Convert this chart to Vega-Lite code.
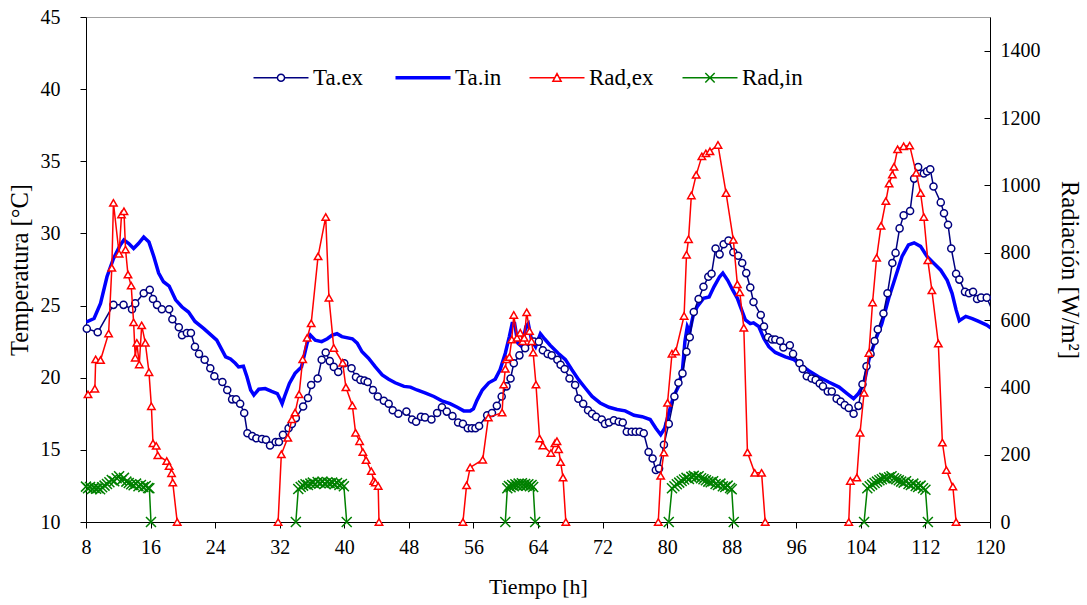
{
  "$schema": "https://vega.github.io/schema/vega-lite/v6.json",
  "width": 904,
  "height": 505,
  "autosize": {"type": "none"},
  "padding": {"left": 86, "top": 17, "right": 97, "bottom": 83},
  "background": "white",
  "config": {
    "font": "Times New Roman, Liberation Serif, serif",
    "view": {"stroke": "#a0a0a0", "strokeWidth": 1},
    "axis": {
      "labelFont": "Times New Roman, Liberation Serif, serif", "titleFont": "Times New Roman, Liberation Serif, serif",
      "labelColor": "black", "titleColor": "black", "domainColor": "black", "tickColor": "black",
      "labelFontSize": 20, "titleFontSize": 22, "titleFontWeight": "normal",
      "grid": false, "domainWidth": 1, "tickWidth": 1, "labelOverlap": false
    }
  },
  "datasets": {
    "taex": [{"t":8.1,"v":23.4},{"t":9.45,"v":23.15},{"t":11.4,"v":25.05},{"t":12.65,"v":25.05},{"t":13.7,"v":24.75},{"t":14.1,"v":25.15},{"t":15.15,"v":25.85},{"t":15.9,"v":26.1},{"t":16.3,"v":25.45},{"t":16.8,"v":25.05},{"t":17.4,"v":24.75},{"t":18.3,"v":24.75},{"t":18.7,"v":24.05},{"t":19.5,"v":23.5},{"t":19.9,"v":22.95},{"t":20.5,"v":23.1},{"t":21.0,"v":23.1},{"t":21.5,"v":22.15},{"t":22.0,"v":21.65},{"t":22.7,"v":21.25},{"t":23.4,"v":20.65},{"t":23.9,"v":20.1},{"t":24.9,"v":19.7},{"t":25.5,"v":19.15},{"t":26.1,"v":18.5},{"t":26.6,"v":18.5},{"t":27.1,"v":18.2},{"t":27.6,"v":17.55},{"t":28.0,"v":16.15},{"t":28.6,"v":15.95},{"t":29.1,"v":15.8},{"t":29.8,"v":15.75},{"t":30.3,"v":15.7},{"t":30.8,"v":15.3},{"t":31.5,"v":15.55},{"t":31.9,"v":15.55},{"t":32.4,"v":16.05},{"t":33.1,"v":16.5},{"t":33.5,"v":16.8},{"t":34.0,"v":17.2},{"t":34.9,"v":18.0},{"t":35.5,"v":18.6},{"t":35.9,"v":19.5},{"t":36.7,"v":19.95},{"t":37.2,"v":21.25},{"t":37.7,"v":21.75},{"t":38.2,"v":21.15},{"t":38.7,"v":20.75},{"t":39.25,"v":20.4},{"t":40.0,"v":21.0},{"t":40.9,"v":20.65},{"t":41.45,"v":20.05},{"t":42.0,"v":19.85},{"t":42.5,"v":19.8},{"t":42.9,"v":19.7},{"t":43.55,"v":19.15},{"t":44.15,"v":18.7},{"t":44.9,"v":18.4},{"t":45.5,"v":18.2},{"t":46.0,"v":17.75},{"t":46.7,"v":17.5},{"t":47.7,"v":17.65},{"t":48.4,"v":17.1},{"t":48.9,"v":16.95},{"t":49.5,"v":17.3},{"t":50.0,"v":17.25},{"t":50.8,"v":17.1},{"t":51.5,"v":17.55},{"t":52.1,"v":17.95},{"t":52.7,"v":17.65},{"t":53.4,"v":17.35},{"t":54.1,"v":16.9},{"t":54.7,"v":16.8},{"t":55.3,"v":16.5},{"t":55.8,"v":16.5},{"t":56.25,"v":16.5},{"t":56.7,"v":16.65},{"t":57.7,"v":17.4},{"t":58.3,"v":17.55},{"t":58.9,"v":18.05},{"t":59.5,"v":18.7},{"t":60.1,"v":19.4},{"t":60.6,"v":19.95},{"t":61.0,"v":21.0},{"t":61.7,"v":21.55},{"t":62.4,"v":22.05},{"t":63.5,"v":22.5},{"t":64.1,"v":22.5},{"t":64.6,"v":21.9},{"t":65.2,"v":21.65},{"t":65.7,"v":21.55},{"t":66.4,"v":21.25},{"t":66.8,"v":20.9},{"t":67.3,"v":20.6},{"t":67.9,"v":19.95},{"t":68.6,"v":19.5},{"t":69.0,"v":18.55},{"t":69.6,"v":18.2},{"t":70.2,"v":17.75},{"t":70.7,"v":17.5},{"t":71.2,"v":17.3},{"t":71.9,"v":17.1},{"t":72.3,"v":16.8},{"t":72.8,"v":16.9},{"t":73.4,"v":17.05},{"t":74.0,"v":16.95},{"t":74.5,"v":16.9},{"t":75.0,"v":16.25},{"t":75.6,"v":16.25},{"t":76.1,"v":16.25},{"t":76.6,"v":16.25},{"t":77.1,"v":16.15},{"t":77.7,"v":14.85},{"t":78.2,"v":14.4},{"t":78.6,"v":13.6},{"t":79.0,"v":13.7},{"t":79.6,"v":15.35},{"t":80.2,"v":16.8},{"t":80.9,"v":18.7},{"t":81.4,"v":19.65},{"t":81.9,"v":20.3},{"t":82.4,"v":21.8},{"t":82.8,"v":22.8},{"t":83.3,"v":24.55},{"t":83.9,"v":25.45},{"t":84.5,"v":26.3},{"t":85.1,"v":27.0},{"t":85.5,"v":27.2},{"t":86.0,"v":28.95},{"t":86.5,"v":28.55},{"t":87.0,"v":29.25},{"t":87.6,"v":29.5},{"t":88.2,"v":28.7},{"t":88.8,"v":28.45},{"t":89.3,"v":27.95},{"t":89.8,"v":27.25},{"t":90.3,"v":26.25},{"t":90.7,"v":25.25},{"t":91.6,"v":24.35},{"t":92.0,"v":23.55},{"t":92.5,"v":22.8},{"t":93.0,"v":22.65},{"t":93.4,"v":22.65},{"t":94.0,"v":22.55},{"t":94.4,"v":22.1},{"t":95.2,"v":22.25},{"t":95.6,"v":21.65},{"t":96.4,"v":21.0},{"t":96.8,"v":20.6},{"t":97.3,"v":20.1},{"t":97.9,"v":19.95},{"t":98.4,"v":19.85},{"t":98.9,"v":19.6},{"t":99.3,"v":19.4},{"t":99.9,"v":19.05},{"t":100.4,"v":19.05},{"t":101.0,"v":18.55},{"t":101.5,"v":18.35},{"t":102.0,"v":18.1},{"t":102.5,"v":17.9},{"t":103.1,"v":17.5},{"t":103.7,"v":18.05},{"t":104.2,"v":19.55},{"t":104.7,"v":20.8},{"t":105.2,"v":21.65},{"t":105.7,"v":22.55},{"t":106.1,"v":23.35},{"t":106.8,"v":24.45},{"t":107.3,"v":25.85},{"t":107.9,"v":27.95},{"t":108.3,"v":28.65},{"t":108.8,"v":30.35},{"t":109.3,"v":31.25},{"t":110.1,"v":31.55},{"t":110.6,"v":33.8},{"t":111.1,"v":34.6},{"t":111.8,"v":34.15},{"t":112.2,"v":34.3},{"t":112.6,"v":34.45},{"t":113.0,"v":33.25},{"t":113.9,"v":32.15},{"t":114.3,"v":31.4},{"t":114.8,"v":30.6},{"t":115.2,"v":28.95},{"t":115.8,"v":27.2},{"t":116.2,"v":26.8},{"t":116.9,"v":25.95},{"t":117.4,"v":25.85},{"t":117.9,"v":25.95},{"t":118.4,"v":25.45},{"t":118.9,"v":25.55},{"t":119.6,"v":25.55},{"t":120.5,"v":24.4}],
    "tain": [{"t":8.0,"v":23.85},{"t":9.0,"v":24.1},{"t":9.8,"v":25.15},{"t":10.6,"v":27.0},{"t":11.4,"v":28.25},{"t":12.25,"v":29.2},{"t":12.7,"v":29.55},{"t":13.3,"v":29.3},{"t":13.9,"v":28.95},{"t":14.5,"v":29.3},{"t":15.15,"v":29.75},{"t":15.8,"v":29.4},{"t":16.4,"v":28.4},{"t":17.0,"v":27.25},{"t":17.6,"v":26.65},{"t":18.3,"v":26.35},{"t":19.1,"v":25.4},{"t":19.9,"v":24.9},{"t":20.7,"v":24.55},{"t":21.5,"v":23.9},{"t":22.6,"v":23.4},{"t":23.4,"v":23.0},{"t":24.2,"v":22.6},{"t":25.3,"v":21.45},{"t":25.9,"v":21.3},{"t":26.5,"v":21.0},{"t":26.9,"v":20.75},{"t":27.5,"v":20.8},{"t":27.95,"v":20.05},{"t":28.4,"v":19.15},{"t":28.8,"v":18.8},{"t":29.4,"v":19.2},{"t":30.2,"v":19.25},{"t":31.0,"v":19.05},{"t":31.7,"v":18.9},{"t":32.1,"v":18.45},{"t":32.3,"v":18.2},{"t":32.6,"v":18.7},{"t":33.2,"v":19.6},{"t":33.9,"v":20.3},{"t":34.7,"v":20.75},{"t":35.4,"v":22.4},{"t":35.8,"v":22.95},{"t":36.4,"v":22.6},{"t":37.2,"v":22.5},{"t":37.9,"v":22.7},{"t":38.5,"v":22.95},{"t":39.1,"v":23.05},{"t":39.7,"v":22.85},{"t":41.0,"v":22.7},{"t":41.6,"v":22.4},{"t":42.2,"v":21.8},{"t":43.0,"v":21.35},{"t":43.85,"v":20.75},{"t":44.7,"v":20.2},{"t":45.5,"v":19.9},{"t":46.3,"v":19.65},{"t":47.4,"v":19.4},{"t":48.2,"v":19.35},{"t":49.0,"v":19.15},{"t":50.0,"v":18.95},{"t":51.1,"v":18.7},{"t":52.1,"v":18.4},{"t":53.1,"v":18.2},{"t":54.0,"v":17.95},{"t":54.8,"v":17.7},{"t":55.6,"v":17.7},{"t":56.0,"v":17.85},{"t":56.45,"v":18.45},{"t":57.1,"v":19.15},{"t":57.9,"v":19.65},{"t":58.7,"v":19.9},{"t":59.3,"v":20.55},{"t":59.95,"v":21.7},{"t":60.45,"v":22.85},{"t":60.8,"v":23.75},{"t":61.1,"v":23.75},{"t":61.5,"v":22.4},{"t":62.0,"v":22.15},{"t":62.5,"v":23.55},{"t":62.8,"v":23.75},{"t":63.2,"v":22.6},{"t":63.7,"v":22.15},{"t":64.3,"v":23.05},{"t":64.8,"v":22.7},{"t":65.5,"v":22.25},{"t":66.5,"v":21.7},{"t":67.4,"v":21.25},{"t":68.2,"v":20.55},{"t":69.05,"v":19.85},{"t":69.9,"v":19.25},{"t":70.7,"v":18.7},{"t":71.7,"v":18.25},{"t":72.8,"v":17.95},{"t":73.8,"v":17.8},{"t":74.8,"v":17.7},{"t":75.9,"v":17.4},{"t":76.9,"v":17.3},{"t":77.9,"v":17.1},{"t":78.6,"v":16.5},{"t":79.2,"v":16.05},{"t":79.7,"v":16.5},{"t":80.2,"v":17.55},{"t":80.8,"v":18.7},{"t":81.4,"v":19.4},{"t":81.9,"v":20.55},{"t":82.2,"v":22.5},{"t":82.5,"v":23.55},{"t":82.8,"v":23.2},{"t":83.2,"v":24.25},{"t":83.7,"v":24.9},{"t":84.5,"v":25.5},{"t":85.2,"v":25.6},{"t":85.8,"v":26.3},{"t":86.5,"v":27.0},{"t":86.9,"v":27.25},{"t":87.5,"v":26.75},{"t":88.1,"v":26.1},{"t":88.7,"v":25.5},{"t":89.1,"v":24.9},{"t":89.7,"v":24.0},{"t":90.3,"v":23.75},{"t":90.7,"v":23.8},{"t":91.35,"v":23.55},{"t":92.0,"v":22.7},{"t":92.6,"v":22.15},{"t":93.4,"v":21.75},{"t":94.65,"v":21.45},{"t":95.7,"v":21.25},{"t":96.5,"v":20.9},{"t":97.5,"v":20.5},{"t":98.8,"v":20.05},{"t":100.0,"v":19.7},{"t":101.3,"v":19.35},{"t":102.3,"v":18.9},{"t":103.1,"v":18.55},{"t":103.7,"v":18.9},{"t":104.4,"v":19.6},{"t":105.0,"v":21.25},{"t":105.8,"v":22.6},{"t":106.6,"v":23.75},{"t":107.5,"v":25.6},{"t":108.3,"v":27.0},{"t":109.1,"v":28.4},{"t":109.9,"v":29.2},{"t":110.6,"v":29.35},{"t":111.4,"v":29.1},{"t":112.2,"v":28.4},{"t":113.0,"v":27.95},{"t":113.9,"v":27.45},{"t":114.7,"v":26.75},{"t":115.3,"v":25.85},{"t":115.8,"v":24.7},{"t":116.2,"v":23.95},{"t":117.0,"v":24.25},{"t":117.8,"v":24.1},{"t":118.6,"v":23.9},{"t":119.6,"v":23.65},{"t":120.5,"v":23.3}],
    "radex": [{"g":1,"t":8.25,"v":379},{"g":1,"t":9.1,"v":396},{"g":1,"t":9.2,"v":483},{"g":1,"t":9.8,"v":481},{"g":1,"t":10.8,"v":560},{"g":1,"t":11.2,"v":755},{"g":1,"t":11.4,"v":948},{"g":1,"t":12.1,"v":797},{"g":1,"t":12.4,"v":913},{"g":1,"t":12.7,"v":923},{"g":1,"t":12.9,"v":809},{"g":1,"t":13.2,"v":735},{"g":1,"t":13.6,"v":702},{"g":1,"t":13.9,"v":593},{"g":1,"t":14.1,"v":488},{"g":1,"t":14.3,"v":532},{"g":1,"t":14.6,"v":468},{"g":1,"t":14.9,"v":584},{"g":1,"t":15.35,"v":532},{"g":1,"t":15.8,"v":445},{"g":1,"t":16.1,"v":344},{"g":1,"t":16.3,"v":234},{"g":1,"t":16.7,"v":226},{"g":1,"t":16.9,"v":198},{"g":1,"t":18.0,"v":181},{"g":1,"t":18.3,"v":166},{"g":1,"t":18.6,"v":145},{"g":1,"t":18.75,"v":117},{"g":1,"t":19.3,"v":0},
      {"g":2,"t":31.8,"v":0},{"g":2,"t":32.2,"v":201},{"g":2,"t":33.0,"v":250},{"g":2,"t":33.5,"v":305},{"g":2,"t":33.9,"v":325},{"g":2,"t":34.4,"v":379},{"g":2,"t":34.85,"v":483},{"g":2,"t":35.4,"v":547},{"g":2,"t":35.9,"v":590},{"g":2,"t":36.75,"v":789},{"g":2,"t":37.7,"v":906},{"g":2,"t":38.1,"v":666},{"g":2,"t":38.7,"v":517},{"g":2,"t":39.8,"v":473},{"g":2,"t":40.2,"v":400},{"g":2,"t":41.0,"v":346},{"g":2,"t":41.4,"v":265},{"g":2,"t":41.9,"v":240},{"g":2,"t":42.3,"v":208},{"g":2,"t":42.7,"v":184},{"g":2,"t":43.35,"v":151},{"g":2,"t":43.65,"v":122},{"g":2,"t":43.85,"v":117},{"g":2,"t":44.2,"v":107},{"g":2,"t":44.3,"v":0},
      {"g":3,"t":54.7,"v":0},{"g":3,"t":55.15,"v":109},{"g":3,"t":55.6,"v":162},{"g":3,"t":57.15,"v":185},{"g":3,"t":57.85,"v":310},{"g":3,"t":59.55,"v":325},{"g":3,"t":59.75,"v":408},{"g":3,"t":59.95,"v":455},{"g":3,"t":60.1,"v":483},{"g":3,"t":60.45,"v":490},{"g":3,"t":60.75,"v":542},{"g":3,"t":61.0,"v":615},{"g":3,"t":61.4,"v":547},{"g":3,"t":61.8,"v":562},{"g":3,"t":62.1,"v":537},{"g":3,"t":62.3,"v":547},{"g":3,"t":62.6,"v":623},{"g":3,"t":62.95,"v":567},{"g":3,"t":63.2,"v":537},{"g":3,"t":63.4,"v":503},{"g":3,"t":63.75,"v":408},{"g":3,"t":64.2,"v":248},{"g":3,"t":64.6,"v":227},{"g":3,"t":65.6,"v":205},{"g":3,"t":66.1,"v":234},{"g":3,"t":66.35,"v":240},{"g":3,"t":66.55,"v":216},{"g":3,"t":66.8,"v":178},{"g":3,"t":67.1,"v":132},{"g":3,"t":67.45,"v":0},
      {"g":4,"t":78.9,"v":0},{"g":4,"t":79.2,"v":137},{"g":4,"t":79.6,"v":206},{"g":4,"t":80.05,"v":354},{"g":4,"t":80.6,"v":500},{"g":4,"t":81.05,"v":506},{"g":4,"t":82.1,"v":612},{"g":4,"t":82.4,"v":794},{"g":4,"t":82.65,"v":840},{"g":4,"t":83.0,"v":970},{"g":4,"t":83.6,"v":1031},{"g":4,"t":84.3,"v":1086},{"g":4,"t":84.8,"v":1095},{"g":4,"t":85.3,"v":1101},{"g":4,"t":86.3,"v":1120},{"g":4,"t":87.3,"v":977},{"g":4,"t":88.2,"v":838},{"g":4,"t":88.7,"v":706},{"g":4,"t":89.0,"v":682},{"g":4,"t":89.5,"v":577},{"g":4,"t":89.95,"v":207},{"g":4,"t":90.85,"v":146},{"g":4,"t":91.7,"v":146},{"g":4,"t":92.15,"v":0},
      {"g":5,"t":102.5,"v":0},{"g":5,"t":102.7,"v":122},{"g":5,"t":103.5,"v":132},{"g":5,"t":103.9,"v":265},{"g":5,"t":104.4,"v":384},{"g":5,"t":105.0,"v":502},{"g":5,"t":105.45,"v":652},{"g":5,"t":105.95,"v":785},{"g":5,"t":106.5,"v":880},{"g":5,"t":107.1,"v":953},{"g":5,"t":107.5,"v":1005},{"g":5,"t":107.9,"v":1032},{"g":5,"t":108.1,"v":1055},{"g":5,"t":108.55,"v":1107},{"g":5,"t":109.3,"v":1116},{"g":5,"t":110.05,"v":1118},{"g":5,"t":110.85,"v":1037},{"g":5,"t":111.4,"v":977},{"g":5,"t":111.8,"v":906},{"g":5,"t":112.3,"v":777},{"g":5,"t":112.8,"v":688},{"g":5,"t":113.6,"v":530},{"g":5,"t":114.1,"v":236},{"g":5,"t":114.6,"v":154},{"g":5,"t":115.4,"v":105},{"g":5,"t":115.8,"v":0}],
    "radin": [{"g":1,"t":8.0,"v":105},{"g":1,"t":8.25,"v":100},{"g":1,"t":8.5,"v":104},{"g":1,"t":8.75,"v":98},{"g":1,"t":9.0,"v":102},{"g":1,"t":9.25,"v":99},{"g":1,"t":9.5,"v":101},{"g":1,"t":9.75,"v":97},{"g":1,"t":10.0,"v":103},{"g":1,"t":10.3,"v":108},{"g":1,"t":10.6,"v":113},{"g":1,"t":10.9,"v":118},{"g":1,"t":11.2,"v":125},{"g":1,"t":11.5,"v":121},{"g":1,"t":11.8,"v":130},{"g":1,"t":12.1,"v":136},{"g":1,"t":12.4,"v":124},{"g":1,"t":12.7,"v":131},{"g":1,"t":13.0,"v":120},{"g":1,"t":13.3,"v":116},{"g":1,"t":13.6,"v":112},{"g":1,"t":13.9,"v":109},{"g":1,"t":14.2,"v":114},{"g":1,"t":14.5,"v":106},{"g":1,"t":14.8,"v":110},{"g":1,"t":15.1,"v":104},{"g":1,"t":15.4,"v":107},{"g":1,"t":15.7,"v":101},{"g":1,"t":15.85,"v":100},{"g":1,"t":16.05,"v":0},
      {"g":2,"t":34.0,"v":0},{"g":2,"t":34.3,"v":98},{"g":2,"t":34.6,"v":104},{"g":2,"t":34.9,"v":108},{"g":2,"t":35.2,"v":112},{"g":2,"t":35.5,"v":110},{"g":2,"t":35.8,"v":114},{"g":2,"t":36.1,"v":117},{"g":2,"t":36.4,"v":113},{"g":2,"t":36.7,"v":119},{"g":2,"t":37.0,"v":116},{"g":2,"t":37.3,"v":120},{"g":2,"t":37.6,"v":114},{"g":2,"t":37.9,"v":118},{"g":2,"t":38.2,"v":115},{"g":2,"t":38.5,"v":117},{"g":2,"t":38.8,"v":112},{"g":2,"t":39.1,"v":116},{"g":2,"t":39.4,"v":110},{"g":2,"t":39.7,"v":113},{"g":2,"t":39.95,"v":106},{"g":2,"t":40.3,"v":0},
      {"g":3,"t":59.95,"v":0},{"g":3,"t":60.2,"v":100},{"g":3,"t":60.4,"v":107},{"g":3,"t":60.6,"v":103},{"g":3,"t":60.8,"v":110},{"g":3,"t":61.0,"v":106},{"g":3,"t":61.2,"v":112},{"g":3,"t":61.4,"v":108},{"g":3,"t":61.6,"v":114},{"g":3,"t":61.8,"v":110},{"g":3,"t":62.0,"v":115},{"g":3,"t":62.2,"v":109},{"g":3,"t":62.4,"v":113},{"g":3,"t":62.6,"v":108},{"g":3,"t":62.8,"v":112},{"g":3,"t":63.0,"v":106},{"g":3,"t":63.2,"v":110},{"g":3,"t":63.4,"v":104},{"g":3,"t":63.65,"v":0},
      {"g":4,"t":80.2,"v":0},{"g":4,"t":80.6,"v":100},{"g":4,"t":80.9,"v":106},{"g":4,"t":81.2,"v":112},{"g":4,"t":81.5,"v":117},{"g":4,"t":81.8,"v":122},{"g":4,"t":82.1,"v":126},{"g":4,"t":82.4,"v":131},{"g":4,"t":82.7,"v":128},{"g":4,"t":83.0,"v":134},{"g":4,"t":83.3,"v":137},{"g":4,"t":83.6,"v":133},{"g":4,"t":83.9,"v":136},{"g":4,"t":84.2,"v":130},{"g":4,"t":84.5,"v":127},{"g":4,"t":84.8,"v":124},{"g":4,"t":85.1,"v":120},{"g":4,"t":85.4,"v":118},{"g":4,"t":85.7,"v":121},{"g":4,"t":86.0,"v":113},{"g":4,"t":86.3,"v":110},{"g":4,"t":86.6,"v":114},{"g":4,"t":86.9,"v":106},{"g":4,"t":87.2,"v":104},{"g":4,"t":87.5,"v":108},{"g":4,"t":87.8,"v":101},{"g":4,"t":88.0,"v":97},{"g":4,"t":88.25,"v":0},
      {"g":5,"t":104.4,"v":0},{"g":5,"t":104.8,"v":100},{"g":5,"t":105.1,"v":106},{"g":5,"t":105.4,"v":111},{"g":5,"t":105.7,"v":116},{"g":5,"t":106.0,"v":120},{"g":5,"t":106.3,"v":124},{"g":5,"t":106.6,"v":127},{"g":5,"t":106.9,"v":131},{"g":5,"t":107.2,"v":129},{"g":5,"t":107.5,"v":133},{"g":5,"t":107.8,"v":136},{"g":5,"t":108.1,"v":130},{"g":5,"t":108.4,"v":127},{"g":5,"t":108.7,"v":124},{"g":5,"t":109.0,"v":120},{"g":5,"t":109.3,"v":117},{"g":5,"t":109.6,"v":121},{"g":5,"t":109.9,"v":113},{"g":5,"t":110.2,"v":110},{"g":5,"t":110.5,"v":114},{"g":5,"t":110.8,"v":107},{"g":5,"t":111.1,"v":104},{"g":5,"t":111.4,"v":108},{"g":5,"t":111.7,"v":100},{"g":5,"t":112.0,"v":96},{"g":5,"t":112.3,"v":0}]
  },
  "encoding": {
    "x": {
      "field": "t", "type": "quantitative",
      "scale": {"domain": [8, 120], "nice": false, "zero": false},
      "axis": {"values": [8,16,24,32,40,48,56,64,72,80,88,96,104,112,120], "tickSize": 6, "labelPadding": 9, "labelFlush": false, "title": "Tiempo [h]", "titleY": 64, "titleBaseline": "middle"}
    }
  },
  "layer": [
    {
      "encoding": {
        "y": {
          "field": "v", "type": "quantitative",
          "scale": {"domain": [10, 45], "nice": false, "zero": false},
          "axis": {"orient": "left", "values": [10,15,20,25,30,35,40,45], "format": "d", "tickSize": 6, "labelPadding": 20, "title": "Temperatura [°C]", "titleFontSize": 24.5, "titleX": -66, "titleY": 252.5, "titleBaseline": "middle"}
        }
      },
      "layer": [
        {
          "data": {"name": "tain"},
          "mark": {"type": "line", "strokeWidth": 3.5, "clip": true},
          "encoding": {
            "color": {
              "datum": "Ta.in", "type": "nominal",
              "scale": {"domain": ["Ta.ex", "Ta.in", "Rad,ex", "Rad,in"], "range": ["#000080", "#0000FF", "#FF0000", "#008000"]},
              "legend": {
                "orient": "none", "legendX": 183.5, "legendY": 49, "direction": "horizontal", "title": null,
                "labelFont": "Times New Roman, Liberation Serif, serif", "labelFontSize": 23, "labelColor": "black", "labelOffset": 20.5,
                "columnPadding": 25, "symbolSize": 3025, "padding": 0, "rowPadding": 0,
                "encode": {
                  "symbols": {
                    "update": {
                      "shape": {"signal": "datum.value === 'Ta.ex' ? 'M-1,0H-0.13M0.13,0H1M-0.13,0A0.13,0.13,0,1,1,0.13,0A0.13,0.13,0,1,1,-0.13,0' : datum.value === 'Ta.in' ? 'M-1,0H1' : datum.value === 'Rad,ex' ? 'M-1,0H-0.08M0.08,0H1M-0.15,0.13L0,-0.15L0.15,0.13Z' : 'M-1,0H1M-0.17,-0.17L0.17,0.17M-0.17,0.17L0.17,-0.17'"},
                      "strokeWidth": {"signal": "datum.value === 'Ta.in' ? 3.5 : 1.5"},
                      "fill": {"value": "white"},
                      "fillOpacity": {"value": 1},
                      "stroke": {"scale": "color", "field": "value"},
                      "opacity": {"value": 1}
                    }
                  }
                }
              }
            }
          }
        },
        {
          "data": {"name": "taex"},
          "mark": {"type": "line", "color": "#000080", "strokeWidth": 1.5, "clip": true}
        },
        {
          "data": {"name": "taex"},
          "transform": [{"filter": "datum.t <= 120"}],
          "mark": {"type": "point", "shape": "circle", "filled": true, "fill": "white", "stroke": "#000080", "strokeWidth": 1.5, "size": 50, "opacity": 1}
        }
      ]
    },
    {
      "encoding": {
        "y": {
          "field": "v", "type": "quantitative",
          "scale": {"domain": [0, 1500], "nice": false},
          "axis": {"orient": "right", "values": [0,200,400,600,800,1000,1200,1400], "format": "d", "tickSize": -6, "labelPadding": 16, "title": "Radiación [W/m²]", "titleFontSize": 24.5, "titleX": 78, "titleY": 252.5, "titleBaseline": "middle"}
        }
      },
      "layer": [
        {
          "data": {"name": "radex"},
          "mark": {"type": "line", "color": "#FF0000", "strokeWidth": 1.5},
          "encoding": {"detail": {"field": "g", "type": "nominal"}}
        },
        {
          "data": {"name": "radex"},
          "mark": {"type": "point", "shape": "triangle-up", "filled": true, "fill": "white", "stroke": "#FF0000", "strokeWidth": 1.5, "size": 55, "opacity": 1}
        },
        {
          "data": {"name": "radin"},
          "mark": {"type": "line", "color": "#008000", "strokeWidth": 1.5},
          "encoding": {"detail": {"field": "g", "type": "nominal"}}
        },
        {
          "data": {"name": "radin"},
          "mark": {"type": "point", "shape": "M-1,-1L1,1M-1,1L1,-1", "filled": false, "stroke": "#008000", "strokeWidth": 1.5, "size": 100, "opacity": 1}
        }
      ]
    }
  ],
  "resolve": {"scale": {"y": "independent"}}
}
